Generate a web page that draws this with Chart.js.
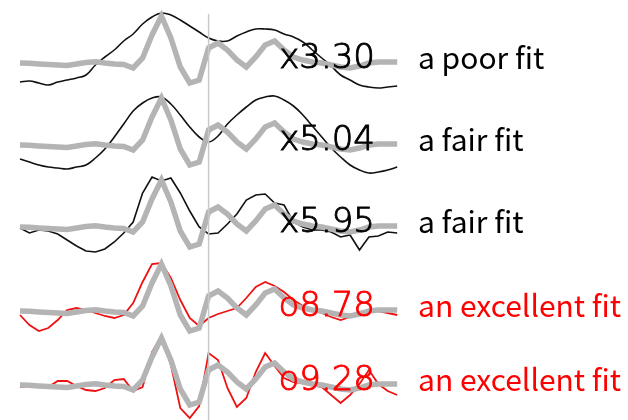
<!DOCTYPE html>
<html>
<head>
<meta charset="utf-8">
<script src="https://cdn.jsdelivr.net/npm/chart.js@4/dist/chart.umd.min.js"></script>
<style>
  html, body { margin: 0; padding: 0; background: #fff; }
  #wrap { width: 628px; height: 420px; position: relative; }
</style>
</head>
<body>
<div id="wrap"><canvas id="myChart"></canvas></div>
<script>
// waveform samples (41 per trace), amplitude up = positive
const template = [0, -0.3, -1, -1.5, -2, -2.5, -1, 0.5, 1.3, 0, -1, -1.5, -5, 5, 28, 47, 25, -4, -20, -17,
    15, 20, 13, 3, -4, 6, 18, 22, 13, 6, 3, 1, 0, -2, -4, -5, -3, 0, 1, 1, 1];

const fit1 = [-19, -18, -20, -22, -19, -17, -15, -12, -2, 6, 13, 22, 29, 39, 46, 50, 48, 43, 37, 31,
    25, 22, 22, 27, 31, 34, 34, 33, 29, 26, 21, 13, 5, -3, -12, -17, -22, -24, -25, -24, -23];
const fit2 = [-14, -17, -20, -22, -23, -24, -22, -20, -13, -4, 8, 21, 34, 42, 47, 48, 41, 30, 18, 8,
    3, 9, 21, 30, 38, 45, 48, 49, 45, 39, 30, 19, 8, -3, -12, -20, -25, -28, -27, -25, -22];
const fit3 = [-1, -6, -3, -4, -7, -13, -19, -24, -25, -22, -15, -6, 5, 34, 50, 46, 49, 34, 16, 0,
    -7, -6, 3, 13, 27, 32, 33, 24, 22, 5, 0, -3, -3, -5, -10, -8, -23, -10, -9, -5, -6];
const fit4 = [-4, -14, -20, -17, -9, 1, 3, 1, -2, -5, -7, -4, 8, 29, 47, 48, 33, 11, -7, -15,
    -7, -3, 0, 3, 13, 24, 29, 25, 19, 11, 5, 1, -2, -6, -9, -6, -1, 0, 0, -2, -4];
const fit5 = [-2, -1, -2, -2, 4, 4, -1, -5, -6, -3, 5, 6, -6, -2, 33, 49, 20, -23, -33, -21,
    32, 25, -3, -22, -13, 13, 32, 19, 7, 3, 2, 0, -2, -10, -18, -10, 1, 15, 1, -6, -10];

const scores = ["x3.30", "x5.04", "x5.95", "o8.78", "o9.28"];
const verdicts = ["a poor fit", "a fair fit", "a fair fit", "an excellent fit", "an excellent fit"];
const excellent = [false, false, false, true, true];
const markerSample = 20;

// layout
const rowBase = [63, 145, 227, 311, 385];
const lineTop = 14;
const fits = [fit1, fit2, fit3, fit4, fit5];
const smooth = [0.4, 0.4, 0, 0, 0];

const datasets = [];
datasets.push({
    data: [{ x: markerSample, y: lineTop }, { x: markerSample, y: 420 }],
    borderColor: '#c8c8c8', borderWidth: 1.5, pointRadius: 0
});
rowBase.forEach(function (base, r) {
    datasets.push({
        data: template.map(function (v, i) { return { x: i, y: base - v }; }),
        borderColor: '#b4b4b4', borderWidth: 5.5, pointRadius: 0, tension: 0
    });
});
rowBase.forEach(function (base, r) {
    datasets.push({
        data: fits[r].map(function (v, i) { return { x: i, y: base - v }; }),
        borderColor: excellent[r] ? '#ee1111' : '#111111',
        borderWidth: excellent[r] ? 1.8 : 1.6, pointRadius: 0, tension: smooth[r]
    });
});

const labelPlugin = {
    id: 'rowLabels',
    afterDatasetsDraw(chart) {
        const ctx = chart.ctx;
        const y = chart.scales.y;
        ctx.save();
        ctx.textBaseline = 'alphabetic';
        rowBase.forEach(function (base, r) {
            const col = excellent[r] ? '#ff0000' : '#000000';
            ctx.fillStyle = col;
            ctx.strokeStyle = col;
            ctx.lineWidth = 0.9;
            ctx.font = "200 34px 'DejaVu Sans'";
            ctx.textAlign = 'right';
            const sy = y.getPixelForValue(base + 5);
            ctx.fillText(scores[r], 375, sy);
            ctx.strokeText(scores[r], 375, sy);
            ctx.font = "30px 'Noto Sans CJK JP'";
            ctx.textAlign = 'left';
            ctx.fillText(verdicts[r], 418, y.getPixelForValue(base + 6));
        });
        ctx.restore();
    }
};

const ctx = document.getElementById('myChart').getContext('2d');
const myChart = new Chart(ctx, {
    type: 'line',
    data: { datasets: datasets },
    options: {
        responsive: true,
        maintainAspectRatio: false,
        animation: false,
        layout: { padding: 0 },
        plugins: { legend: { display: false }, tooltip: { enabled: false } },
        scales: {
            x: { type: 'linear', display: false, min: -20 / 9.43, max: 608 / 9.43 },
            y: { type: 'linear', display: false, reverse: true, min: 0, max: 420 }
        }
    },
    plugins: [labelPlugin]
});
</script>
</body>
</html>
